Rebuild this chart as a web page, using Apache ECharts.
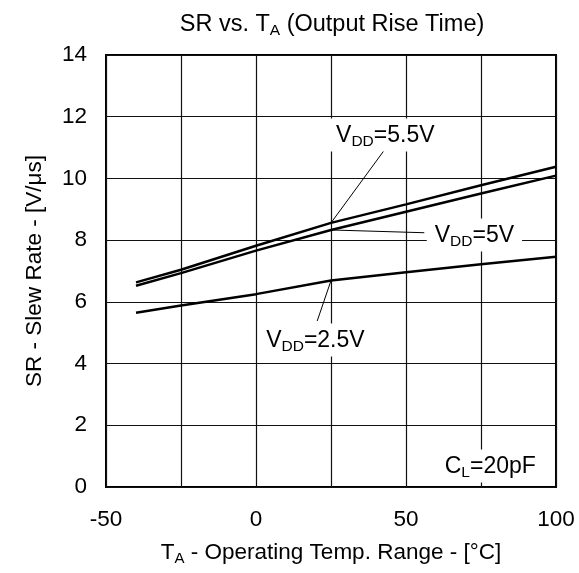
<!DOCTYPE html>
<html>
<head>
<meta charset="utf-8">
<script src="https://cdn.jsdelivr.net/npm/echarts@6/dist/echarts.min.js"></script>
<style>html,body{margin:0;padding:0;background:#fff}#c{width:579px;height:573px}</style>
</head>
<body>
<div id="c"></div>
<script>
const temps = [-40, -25, 0, 25, 50, 75, 100];
const vdd55 = [6.63, 7.04, 7.82, 8.56, 9.16, 9.78, 10.38];
const vdd50 = [6.52, 6.93, 7.66, 8.33, 8.92, 9.51, 10.09];
const vdd25 = [5.65, 5.88, 6.25, 6.69, 6.96, 7.22, 7.46];
const xTicks = [-50, 0, 50, 100];
const yTicks = [0, 2, 4, 6, 8, 10, 12, 14];

const FONT = '"Liberation Sans", Arial, sans-serif';
const FS = 22.5;
const mkRich = (fs, sfs, drop) => ({
  a: {fontFamily: FONT, fontSize: fs, fontWeight: 'normal', color: '#000'},
  s: {fontFamily: FONT, fontSize: sfs, fontWeight: 'normal', color: '#000', padding: [drop, 0, 0, 0]}
});
const rich = mkRich(FS, 15, 12);
const titleRich = mkRich(23.5, 15.5, 12);
const noteRich = mkRich(23, 15.5, 12);
const pairs = v => temps.map((t, i) => [t, v[i]]);
const mkSeries = (name, v) => ({
  name, type: 'line', data: pairs(v), showSymbol: false, symbol: 'none',
  lineStyle: {color: '#000', width: 2.5}, z: 5, animation: false
});

const chart = echarts.init(document.getElementById('c'), null, {renderer: 'canvas'});
chart.setOption({
  animation: false,
  backgroundColor: '#fff',
  title: {
    text: '{a|SR vs. T}{s|A}{a| (Output Rise Time)}',
    left: 327, top: 6, textAlign: 'center',
    textStyle: {rich: titleRich, fontWeight: 'normal'}
  },
  grid: {left: 106, right: 23, top: 55, bottom: 86, show: true, borderColor: '#000', borderWidth: 2, backgroundColor: 'transparent'},
  xAxis: {
    type: 'value', min: -50, max: 100, interval: 25,
    axisLine: {show: false}, axisTick: {show: false},
    splitLine: {show: true, lineStyle: {color: '#111', width: 1.2}},
    axisLabel: {
      margin: 21, fontFamily: FONT, fontSize: FS, color: '#000',
      formatter: v => xTicks.includes(v) ? String(v) : ''
    },
    name: '{a|T}{s|A}{a| - Operating Temp. Range - [°C]}',
    nameLocation: 'middle', nameGap: 52,
    nameTextStyle: {rich}
  },
  yAxis: {
    type: 'value', min: 0, max: 14, interval: 2,
    axisLine: {show: false}, axisTick: {show: false},
    splitLine: {show: true, lineStyle: {color: '#111', width: 1.2}},
    axisLabel: {
      margin: 19, fontFamily: FONT, fontSize: FS, color: '#000',
      formatter: v => yTicks.includes(v) ? String(v) : ''
    },
    name: 'SR - Slew Rate - [V/μs]',
    nameLocation: 'middle', nameGap: 60, nameRotate: 90,
    nameTextStyle: {fontFamily: FONT, fontSize: FS, color: '#000'}
  },
  series: [mkSeries('VDD=5.5V', vdd55), mkSeries('VDD=5V', vdd50), mkSeries('VDD=2.5V', vdd25)]
});

const P = (x, y) => chart.convertToPixel({gridIndex: 0}, [x, y]);
const notes = [
  {text: '{a|V}{s|DD}{a|=5.5V}', at: [43.1, 11.41], from: [42.8, 10.92], to: [25, vdd55[3]]},
  {text: '{a|V}{s|DD}{a|=5V}', at: [72.8, 8.17], from: [56.1, 8.24], to: [25, vdd50[3]]},
  {text: '{a|V}{s|DD}{a|=2.5V}', at: [19.8, 4.76], from: [20.4, 5.38], to: [25, vdd25[3]]},
  {text: '{a|C}{s|L}{a|=20pF}', at: [78.1, 0.68]}
];
const g = [];
notes.forEach(n => {
  if (n.from) {
    const a = P(n.from[0], n.from[1]), b = P(n.to[0], n.to[1]);
    g.push({type: 'line', z: 10, shape: {x1: a[0], y1: a[1], x2: b[0], y2: b[1]}, style: {stroke: '#000', lineWidth: 1}});
  }
  const c = P(n.at[0], n.at[1]);
  g.push({
    type: 'text', z: 20, x: c[0], y: c[1],
    style: {text: n.text, rich: noteRich, align: 'center', verticalAlign: 'middle',
      backgroundColor: '#fff', padding: [3, 8, 2, 8]}
  });
});
chart.setOption({graphic: g});
</script>
</body>
</html>
